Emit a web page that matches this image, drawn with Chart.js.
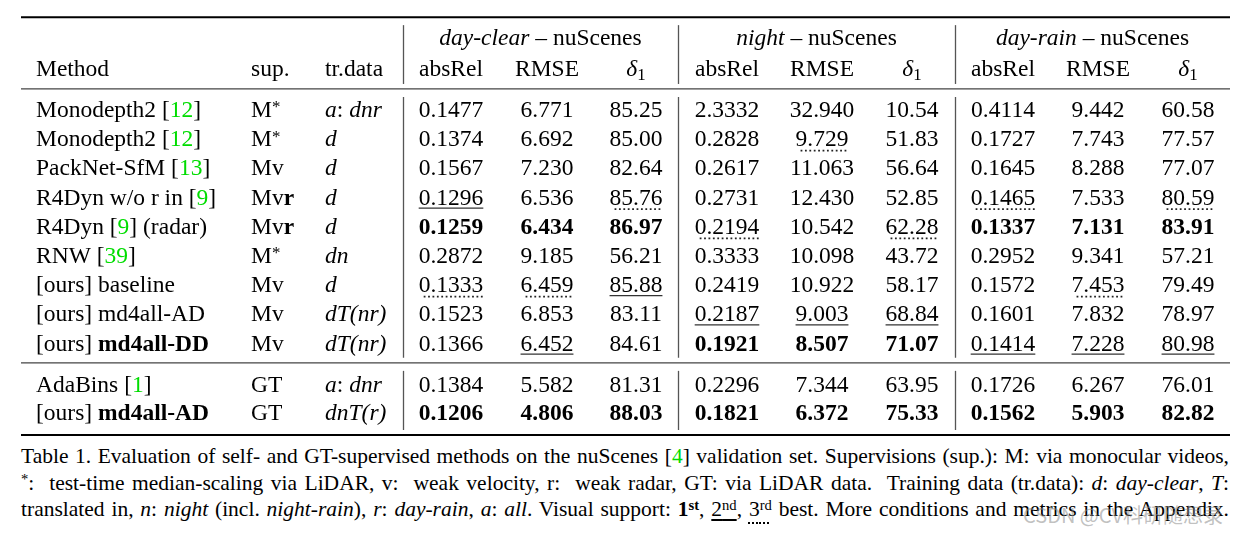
<!DOCTYPE html>
<html>
<head>
<meta charset="utf-8">
<script src="https://cdn.jsdelivr.net/npm/chart.js@4.4.1/dist/chart.umd.min.js"></script>
<style>
  body { margin: 0; background: #fff; width: 1237px; height: 534px; overflow: hidden; position: relative; font-family: "Liberation Serif", serif; }
  #wrap { position: absolute; left: 0; top: 0; width: 1237px; height: 440px; }
  #caption { position: absolute; left: 21px; top: 443px; width: 1208px; font-size: 21.5px; line-height: 26.5px; color: #000; }
  #caption div { text-align: justify; text-align-last: justify; white-space: nowrap; }
  #caption sup { font-size: 0.68em; line-height: 0; vertical-align: 0.42em; }
  #caption .g { color: #00dd00; }
  #caption .u { text-decoration: underline; text-underline-offset: 3px; }
  #caption .dot { text-decoration: underline dotted; text-decoration-thickness: 2px; text-underline-offset: 6px; }
  #mark { position: absolute; left: 1023px; top: 500px; font: 20px "Noto Sans CJK SC", "DejaVu Sans", sans-serif; color: rgba(140,140,140,0.55); white-space: nowrap; }
</style>
</head>
<body>
<div id="wrap"><canvas id="tableChart" width="1237" height="440"></canvas></div>
<div id="caption">
  <div>Table 1. Evaluation of self- and GT-supervised methods on the nuScenes [<span class="g">4</span>] validation set. Supervisions (sup.): M: via monocular videos,</div>
  <div><sup>*</sup>:&nbsp; test-time median-scaling via LiDAR, v:&nbsp; weak velocity, r:&nbsp; weak radar, GT: via LiDAR data.&nbsp; Training data (tr.data): <i>d</i>: <i>day-clear</i>, <i>T</i>:</div>
  <div>translated in, <i>n</i>: <i>night</i> (incl. <i>night-rain</i>), <i>r</i>: <i>day-rain</i>, <i>a</i>: <i>all</i>. Visual support: <b>1<sup>st</sup></b>, <span class="u">2<sup>nd</sup></span>, <span class="dot">3<sup>rd</sup></span> best. More conditions and metrics in the Appendix.</div>
</div>
<div id="mark">CSDN @CV科研随想录</div>
<script>
// Table content
const methods = ['Monodepth2 [{12}]', 'Monodepth2 [{12}]', 'PackNet-SfM [{13}]', 'R4Dyn w/o r in [{9}]', 'R4Dyn [{9}] (radar)',
    'RNW [{39}]', '[ours] baseline', '[ours] md4all-AD', '[ours] **md4all-DD**', 'AdaBins [{1}]', '[ours] **md4all-AD**'];
const supervision = ['M^*', 'M^*', 'Mv', 'Mv**r**', 'Mv**r**', 'M^*', 'Mv', 'Mv', 'Mv', 'GT', 'GT'];
const trainData = ['_a_: _dnr_', '_d_', '_d_', '_d_', '_d_', '_dn_', '_d_', '_dT(nr)_', '_dT(nr)_', '_a_: _dnr_', '_dnT(r)_'];
const conditions = ['_day-clear_ – nuScenes', '_night_ – nuScenes', '_day-rain_ – nuScenes'];
const metrics = ['absRel', 'RMSE', '_δ_~1'];
const metricDecimals = [4, 3, 2];
const metricLowerBetter = [true, true, false];
// rows compared against each other, and how many places get marked (1st bold, 2nd underline, 3rd dotted)
const rowGroups = [[0, 1, 2, 3, 4, 5, 6, 7, 8], [9, 10]];
const groupMarks = [3, 1];

const dayClearAbsRel = [0.1477, 0.1374, 0.1567, 0.1296, 0.1259, 0.2872, 0.1333, 0.1523, 0.1366, 0.1384, 0.1206];
const dayClearRMSE   = [6.771, 6.692, 7.230, 6.536, 6.434, 9.185, 6.459, 6.853, 6.452, 5.582, 4.806];
const dayClearD1     = [85.25, 85.00, 82.64, 85.76, 86.97, 56.21, 85.88, 83.11, 84.61, 81.31, 88.03];
const nightAbsRel    = [2.3332, 0.2828, 0.2617, 0.2731, 0.2194, 0.3333, 0.2419, 0.2187, 0.1921, 0.2296, 0.1821];
const nightRMSE      = [32.940, 9.729, 11.063, 12.430, 10.542, 10.098, 10.922, 9.003, 8.507, 7.344, 6.372];
const nightD1        = [10.54, 51.83, 56.64, 52.85, 62.28, 43.72, 58.17, 68.84, 71.07, 63.95, 75.33];
const rainAbsRel     = [0.4114, 0.1727, 0.1645, 0.1465, 0.1337, 0.2952, 0.1572, 0.1601, 0.1414, 0.1726, 0.1562];
const rainRMSE       = [9.442, 7.743, 8.288, 7.533, 7.131, 9.341, 7.453, 7.832, 7.228, 6.267, 5.903];
const rainD1         = [60.58, 77.57, 77.07, 80.59, 83.91, 57.21, 79.49, 78.97, 80.98, 76.01, 82.82];

// Layout (x in px units, y in row units; row 0 = first data row baseline)
const FONT = '"Liberation Serif", "Times New Roman", serif';
const SIZE = 23.5;
const GREEN = '#00dd00';
const ROW_PX = 29.2, FIRST_ROW_PX = 117, CANVAS_H = 440;
const rowPos = [0, 1, 2, 3, 4, 5, 6, 7, 8, 9.41, 10.39];
const groupTitleRow = -2.47, headerRow = -1.40;
const rules = [{ y: -3.42, w: 2, c: '#000' }, { y: -0.96, w: 1.2, c: '#444' }, { y: 8.42, w: 1.2, c: '#444' }, { y: 10.89, w: 2, c: '#000' }];
const tableLeft = 21, tableRight = 1230;
const vLines = [403, 678, 955];
const textCols = [36, 251, 325];
const numCols = [451, 547, 636, 727, 822, 912, 1003, 1098, 1188];

const series = [dayClearAbsRel, dayClearRMSE, dayClearD1, nightAbsRel, nightRMSE, nightD1, rainAbsRel, rainRMSE, rainD1];

// tiny markup: **bold**, {green}, ^sup, ~sub, _italic_
function parse(str) {
    const runs = [];
    const re = /\*\*(.+?)\*\*|\{(.+?)\}|\^(.)|~(.)|_(.+?)_|([^*{^~_]+)/g;
    let m;
    while ((m = re.exec(str))) {
        if (m[1]) runs.push({ t: m[1], bold: true });
        else if (m[2]) runs.push({ t: m[2], color: GREEN });
        else if (m[3]) runs.push({ t: m[3], sup: true });
        else if (m[4]) runs.push({ t: m[4], sub: true });
        else if (m[5]) runs.push({ t: m[5], italic: true });
        else runs.push({ t: m[6] });
    }
    return runs;
}

function runFont(r) {
    const s = (r.sup || r.sub) ? SIZE * 0.72 : SIZE;
    return `${r.italic ? 'italic ' : ''}${r.bold ? 'bold ' : ''}${s}px ${FONT}`;
}

function drawRuns(ctx, runs, x, y, align) {
    let w = 0;
    runs.forEach(r => { ctx.font = runFont(r); r.w = ctx.measureText(r.t).width; w += r.w; });
    let cx = align === 'center' ? x - w / 2 : x;
    const x0 = cx;
    ctx.textAlign = 'left';
    ctx.textBaseline = 'alphabetic';
    runs.forEach(r => {
        ctx.font = runFont(r);
        ctx.fillStyle = r.color || '#000';
        const dy = r.sup ? -SIZE * 0.2 : r.sub ? SIZE * 0.15 : 0;
        ctx.fillText(r.t, cx, y + dy);
        cx += r.w;
    });
    return { x0, w };
}

function rankMarks(values, lowerBetter) {
    const marks = values.map(() => 0);
    rowGroups.forEach((rows, g) => {
        const sorted = rows.slice().sort((a, b) => lowerBetter ? values[a] - values[b] : values[b] - values[a]);
        sorted.slice(0, groupMarks[g]).forEach((idx, k) => { marks[idx] = k + 1; });
    });
    return marks;
}

// one scatter dataset per column; each point anchors one cell
const datasets = [];
[methods, supervision, trainData].forEach((col, c) => {
    datasets.push({
        data: rowPos.map(r => ({ x: textCols[c], y: r })),
        cells: col.map(parse), marks: col.map(() => 0), align: 'left', pointRadius: 0
    });
});
series.forEach((values, c) => {
    const m = c % 3;
    const marks = rankMarks(values, metricLowerBetter[m]);
    datasets.push({
        data: rowPos.map(r => ({ x: numCols[c], y: r })),
        cells: values.map((v, i) => [{ t: v.toFixed(metricDecimals[m]), bold: marks[i] === 1 }]),
        marks, align: 'center', pointRadius: 0
    });
});

const tablePlugin = {
    id: 'tableText',
    afterDatasetsDraw(chart) {
        const ctx = chart.ctx, xs = chart.scales.x, ys = chart.scales.y;
        ctx.save();
        // horizontal rules
        const ruleY = rules.map(r => ys.getPixelForValue(r.y));
        rules.forEach((r, i) => {
            ctx.strokeStyle = r.c; ctx.lineWidth = r.w;
            ctx.beginPath();
            ctx.moveTo(xs.getPixelForValue(tableLeft), ruleY[i]);
            ctx.lineTo(xs.getPixelForValue(tableRight), ruleY[i]);
            ctx.stroke();
        });
        // vertical separators, broken at each rule
        ctx.strokeStyle = '#555'; ctx.lineWidth = 1.3;
        vLines.forEach(v => {
            const px = Math.round(xs.getPixelForValue(v)) + 0.5;
            for (let i = 0; i < ruleY.length - 1; i++) {
                ctx.beginPath();
                ctx.moveTo(px, ruleY[i] + 8);
                ctx.lineTo(px, ruleY[i + 1] - 5);
                ctx.stroke();
            }
        });
        // headers
        const hy = ys.getPixelForValue(headerRow), gy = ys.getPixelForValue(groupTitleRow);
        ['Method', 'sup.', 'tr.data'].forEach((h, i) => drawRuns(ctx, parse(h), xs.getPixelForValue(textCols[i]), hy, 'left'));
        conditions.forEach((t, g) => {
            const left = vLines[g];
            const right = g === 2 ? tableRight : vLines[g + 1];
            drawRuns(ctx, parse(t), xs.getPixelForValue((left + right) / 2), gy, 'center');
        });
        numCols.forEach((cx, c) => drawRuns(ctx, parse(metrics[c % 3]), xs.getPixelForValue(cx), hy, 'center'));
        // cells
        chart.data.datasets.forEach((ds, d) => {
            chart.getDatasetMeta(d).data.forEach((pt, i) => {
                const box = drawRuns(ctx, ds.cells[i].map(r => Object.assign({}, r)), pt.x, pt.y, ds.align);
                if (ds.marks[i] === 2) {
                    ctx.strokeStyle = '#333'; ctx.lineWidth = 1.2; ctx.setLineDash([]);
                    ctx.beginPath(); ctx.moveTo(box.x0, pt.y + 3.5); ctx.lineTo(box.x0 + box.w, pt.y + 3.5); ctx.stroke();
                } else if (ds.marks[i] === 3) {
                    ctx.strokeStyle = '#222'; ctx.lineWidth = 1.8; ctx.setLineDash([1.8, 2.6]);
                    ctx.beginPath(); ctx.moveTo(box.x0 + 5, pt.y + 4.5); ctx.lineTo(box.x0 + box.w, pt.y + 4.5); ctx.stroke();
                    ctx.setLineDash([]);
                }
            });
        });
        ctx.restore();
    }
};

new Chart(document.getElementById('tableChart').getContext('2d'), {
    type: 'scatter',
    data: { datasets },
    options: {
        responsive: false,
        animation: false,
        layout: { padding: 0 },
        plugins: { legend: { display: false }, tooltip: { enabled: false } },
        scales: {
            x: { type: 'linear', display: false, min: 0, max: 1237 },
            y: { type: 'linear', display: false, reverse: true, min: -FIRST_ROW_PX / ROW_PX, max: (CANVAS_H - FIRST_ROW_PX) / ROW_PX }
        }
    },
    plugins: [tablePlugin]
});
</script>
</body>
</html>
